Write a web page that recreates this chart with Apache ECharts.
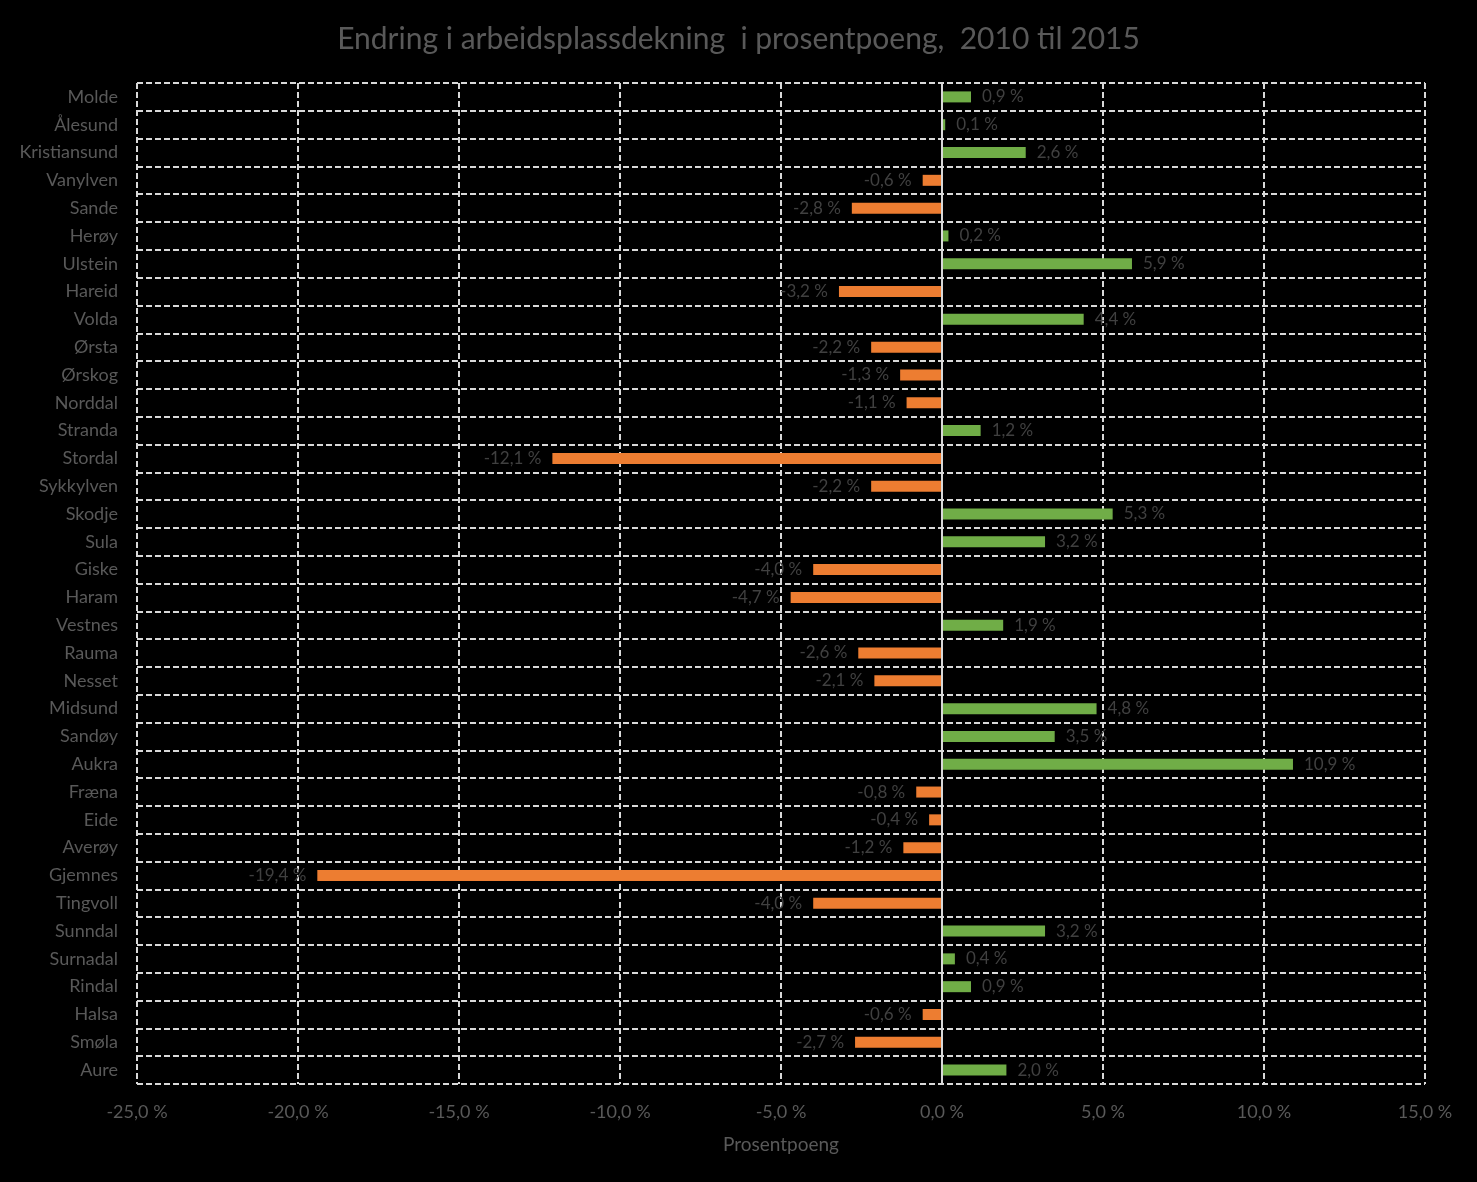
<!DOCTYPE html>
<html>
<head>
<meta charset="utf-8">
<script src="https://cdn.jsdelivr.net/npm/echarts@6/dist/echarts.min.js"></script>
<style>
html,body{margin:0;padding:0;background:#000;}
#c{width:1477px;height:1182px;}
</style>
</head>
<body>
<div id="c"></div>
<script>
const categories = ["Molde","Ålesund","Kristiansund","Vanylven","Sande","Herøy","Ulstein","Hareid","Volda","Ørsta","Ørskog","Norddal","Stranda","Stordal","Sykkylven","Skodje","Sula","Giske","Haram","Vestnes","Rauma","Nesset","Midsund","Sandøy","Aukra","Fræna","Eide","Averøy","Gjemnes","Tingvoll","Sunndal","Surnadal","Rindal","Halsa","Smøla","Aure"];
const values = [0.9,0.1,2.6,-0.6,-2.8,0.2,5.9,-3.2,4.4,-2.2,-1.3,-1.1,1.2,-12.1,-2.2,5.3,3.2,-4.0,-4.7,1.9,-2.6,-2.1,4.8,3.5,10.9,-0.8,-0.4,-1.2,-19.4,-4.0,3.2,0.4,0.9,-0.6,-2.7,2.0];
const xTicks = [-25,-20,-15,-10,-5,0,5,10,15];

const POS = '#70ad47', NEG = '#ed7d31';
const fmt = v => v.toFixed(1).replace('.', ',') + ' %';
const font = 'Lato, "Open Sans", sans-serif';

const seriesData = values.map(v => ({
  value: v,
  itemStyle: { color: v >= 0 ? POS : NEG },
  label: { position: v >= 0 ? 'right' : 'left' }
}));

const chart = echarts.init(document.getElementById('c'));
chart.setOption({
  backgroundColor: '#000',
  animation: false,
  title: {
    text: 'Endring i arbeidsplassdekning  i prosentpoeng,  2010 til 2015',
    left: 'center', top: 19,
    textStyle: { color: '#595959', fontSize: 30, fontWeight: 'normal', fontFamily: font }
  },
  grid: { left: 137, right: 52, top: 83, bottom: 98, containLabel: false },
  xAxis: {
    type: 'value', min: xTicks[0], max: xTicks[xTicks.length-1], interval: 5,
    name: 'Prosentpoeng', nameLocation: 'middle', nameGap: 51,
    nameTextStyle: { color: '#595959', fontSize: 19, fontFamily: font },
    axisLine: { show: false }, axisTick: { show: false },
    axisLabel: { color: '#595959', fontSize: 18, fontFamily: font, margin: 19, formatter: v => fmt(v) },
    splitLine: { show: true, lineStyle: { color: '#d9d9d9', width: 2, type: [6, 3] } }
  },
  yAxis: {
    type: 'category', data: categories, inverse: true,
    axisLine: { show: false }, axisTick: { show: false },
    axisLabel: { color: '#595959', fontSize: 18, fontFamily: font, margin: 19 },
    splitLine: { show: true, lineStyle: { color: '#d9d9d9', width: 2, type: [6, 3] } }
  },
  series: [{
    type: 'bar', data: seriesData, barWidth: 11,
    label: { show: true, color: '#404040', fontSize: 17, fontFamily: font, distance: 11,
             formatter: p => fmt(p.value) },
    markLine: {
      silent: true, symbol: 'none', label: { show: false },
      lineStyle: { color: '#d9d9d9', type: 'solid', width: 2 },
      data: [{ xAxis: 0 }]
    }
  }]
});
</script>
</body>
</html>
